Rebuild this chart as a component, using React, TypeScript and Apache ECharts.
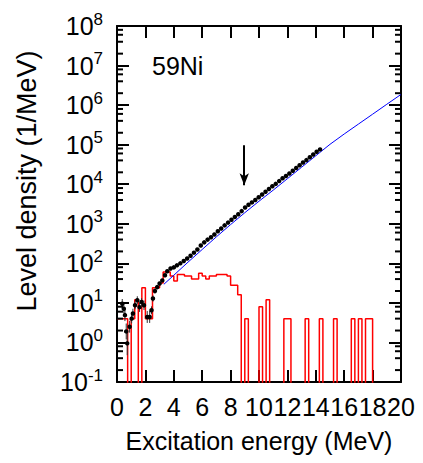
import React, { useEffect, useRef } from "react";
import * as echarts from "echarts";

// ---- axis ticks ----
const xMin = 0;
const xMax = 20;
const xStep = 2;
const yMin = 0.1;
const yMax = 1e8;
const minorMultipliers = [2, 4, 6, 8];
const decadeStarts = [0.1, 1, 10, 100, 1e3, 1e4, 1e5, 1e6, 1e7];

// ---- red histogram of discrete levels (0.25 MeV bins, levels/MeV) ----
const histBinWidth = 0.25;
const histDensity = [
  4, 4, 4, 0, 4, 12, 0, 24, 4, 4, 24, 24, 32, 60, 60, 48, 36, 52, 52, 48,
  48, 40, 40, 56, 48, 40, 48, 48, 52, 52, 52, 48, 28, 28, 16, 0, 4, 0, 0, 0,
  8, 0, 12, 0, 0, 0, 0, 4, 4, 0, 0, 0, 0, 4, 0, 0, 0, 4, 0, 0,
  0, 4, 0, 0, 0, 0, 4, 0, 4, 0, 4, 4,
];

// ---- experimental level density (black points) ----
const dotEnergy = [
  0.37, 0.48, 0.56, 0.65, 0.72, 0.89, 1.03, 1.12, 1.27, 1.43, 1.59, 1.73, 1.9,
  2.13, 2.3, 2.43, 2.53, 2.67, 2.83, 3.0, 3.19, 3.38, 3.54, 3.77, 4.0, 4.22,
  4.46, 4.7, 4.94, 5.18, 5.42, 5.66, 5.9, 6.14, 6.38, 6.62, 6.86, 7.1, 7.34,
  7.58, 7.82, 8.06, 8.3, 8.54, 8.78, 9.02, 9.26, 9.5, 9.74, 9.98, 10.22, 10.46,
  10.7, 10.94, 11.18, 11.42, 11.66, 11.9, 12.14, 12.38, 12.62, 12.86, 13.1,
  13.34, 13.58, 13.82, 14.06, 14.3,
];
const dotValue = [
  9.5, 7.1, 4.9, 1.9, 0.95, 2.5, 4.0, 5.4, 8.7, 11.7, 7.8, 10.5, 8.7, 4.4, 4.4,
  6.5, 12.9, 20, 25, 31, 37, 50, 63, 74, 79, 89, 100, 115, 132, 155, 186, 224,
  282, 339, 398, 457, 537, 646, 759, 912, 1070, 1260, 1480, 1740, 2090, 2570,
  3020, 3470, 3980, 4680, 5500, 6460, 7590, 8910, 10200, 12000, 14100, 16200,
  18600, 21900, 25700, 30200, 35500, 40700, 47900, 56200, 66100, 75900,
];
// error half-width in decades
const dotErr = [
  0.12, 0.12, 0.15, 0.2, 0.3, 0.15, 0.12, 0.12, 0.1, 0.1, 0.12, 0.1, 0.12,
  0.15, 0.15, 0.1, 0.08, 0.06, 0.05, 0.04, 0.04, 0.03, 0.03, 0.03, 0.03, 0.03,
];

// ---- level density model (blue line) ----
const fitEnergy = [3.3, 4, 5, 6, 7, 8, 9, 10, 11, 12, 13, 14, 15, 16, 17, 18, 19, 20];
const fitValue = [
  29.5, 50, 107, 224, 468, 955, 1905, 3715, 7080, 13800, 26900, 52500, 102000,
  186000, 331000, 589000, 1050000, 1860000,
];

// ---- arrow and label ----
const arrowEnergy = 8.96;
const arrowFrom = 96600;
const arrowTo = 9400;
const nucleusLabel = "59Ni";
const xTitle = "Excitation energy (MeV)";
const yTitle = "Level density (1/MeV)";

const FONT = "'Liberation Sans', Arial, Helvetica, sans-serif";

export default function App() {
  const ref = useRef<HTMLDivElement>(null);

  useEffect(() => {
    if (!ref.current) return;
    const chart = echarts.init(ref.current, undefined, { renderer: "svg" });

    const floor = 1e-3;
    const histData: number[][] = histDensity.map((v, k) => [k * histBinWidth, v > 0 ? v : floor]);
    histData.push([histDensity.length * histBinWidth, floor]);

    const minorTicks: number[][] = [];
    decadeStarts.forEach((d) => minorMultipliers.forEach((m) => minorTicks.push([0, d * m])));

    const errData = dotErr.map((e, i) => [
      dotEnergy[i],
      dotValue[i] / Math.pow(10, e),
      dotValue[i] * Math.pow(10, e),
    ]);

    const axisLine = { show: true, onZero: false, lineStyle: { color: "#000", width: 2 } };
    const tick = { show: true, inside: true, length: 12, lineStyle: { color: "#000", width: 2 } };

    const option: any = {
      animation: false,
      grid: { left: 117, top: 26, width: 284, height: 356, containLabel: false },
      xAxis: [
        {
          type: "value", min: xMin, max: xMax, interval: xStep, position: "bottom",
          axisLine, axisTick: tick, splitLine: { show: false },
          axisLabel: { fontSize: 25, color: "#000", fontFamily: FONT, margin: 12 },
          name: xTitle, nameLocation: "middle", nameGap: 46,
          nameTextStyle: { fontSize: 25, color: "#000", fontFamily: FONT },
        },
        {
          type: "value", min: xMin, max: xMax, interval: xStep, position: "top",
          axisLine, axisTick: tick, splitLine: { show: false }, axisLabel: { show: false },
        },
      ],
      yAxis: [
        {
          type: "log", logBase: 10, min: yMin, max: yMax, splitNumber: 9, position: "left",
          axisLine, axisTick: tick, splitLine: { show: false },
          axisLabel: {
            margin: 14,
            formatter: (v: number) => `{b|10}{s|${Math.round(Math.log10(v))}}`,
            rich: {
              b: { fontSize: 25, color: "#000", fontFamily: FONT },
              s: { fontSize: 17, color: "#000", fontFamily: FONT, padding: [0, 0, 14, 0] },
            },
          },
        },
        {
          type: "log", logBase: 10, min: yMin, max: yMax, splitNumber: 9, position: "right",
          axisLine, axisTick: tick, splitLine: { show: false }, axisLabel: { show: false },
        },
      ],
      graphic: [
        {
          type: "text", x: 27, y: 181, rotation: Math.PI / 2,
          style: { text: yTitle, fontSize: 27, fontFamily: FONT, fill: "#000", textAlign: "center", textVerticalAlign: "middle" },
        },
        {
          type: "text", x: 152, y: 66,
          style: { text: nucleusLabel, fontSize: 25, fontFamily: FONT, fill: "#000", textAlign: "left", textVerticalAlign: "middle" },
        },
      ],
      series: [
        {
          type: "line", step: "end", data: histData, showSymbol: false, clip: true,
          lineStyle: { color: "#ff0000", width: 1.5 }, silent: true, z: 2,
        },
        {
          type: "line", data: fitEnergy.map((e, i) => [e, fitValue[i]]), showSymbol: false,
          lineStyle: { color: "#0000ff", width: 1 }, silent: true, z: 3, smooth: false,
        },
        {
          type: "custom", data: errData, encode: { x: 0, y: [1, 2] }, silent: true, z: 4,
          renderItem: (params: any, api: any) => {
            const p1 = api.coord([api.value(0), api.value(1)]);
            const p2 = api.coord([api.value(0), api.value(2)]);
            return { type: "line", shape: { x1: p1[0], y1: p1[1], x2: p2[0], y2: p2[1] }, style: { stroke: "#333", lineWidth: 1 } };
          },
        },
        {
          type: "scatter", data: dotEnergy.map((e, i) => [e, dotValue[i]]), symbol: "circle",
          symbolSize: 4.5, itemStyle: { color: "#000", opacity: 1 }, silent: true, z: 5,
          markLine: {
            silent: true, symbol: ["none", "arrow"], symbolSize: [7, 12], label: { show: false },
            lineStyle: { color: "#000", width: 2, type: "solid" },
            data: [[{ coord: [arrowEnergy, arrowFrom] }, { coord: [arrowEnergy, arrowTo] }]],
          },
        },
        {
          type: "custom", data: minorTicks, silent: true, z: 6, clip: false,
          renderItem: (params: any, api: any) => {
            const y = api.coord([0, api.value(1)])[1];
            const cs = params.coordSys;
            const st = { stroke: "#000", lineWidth: 2 };
            return {
              type: "group",
              children: [
                { type: "line", shape: { x1: cs.x, y1: y, x2: cs.x + 6, y2: y }, style: st },
                { type: "line", shape: { x1: cs.x + cs.width - 6, y1: y, x2: cs.x + cs.width, y2: y }, style: st },
              ],
            };
          },
        },
      ],
    };

    chart.setOption(option);
    return () => chart.dispose();
  }, []);

  return <div ref={ref} style={{ position: "absolute", left: 0, top: 0, width: 423, height: 463 }} />;
}
